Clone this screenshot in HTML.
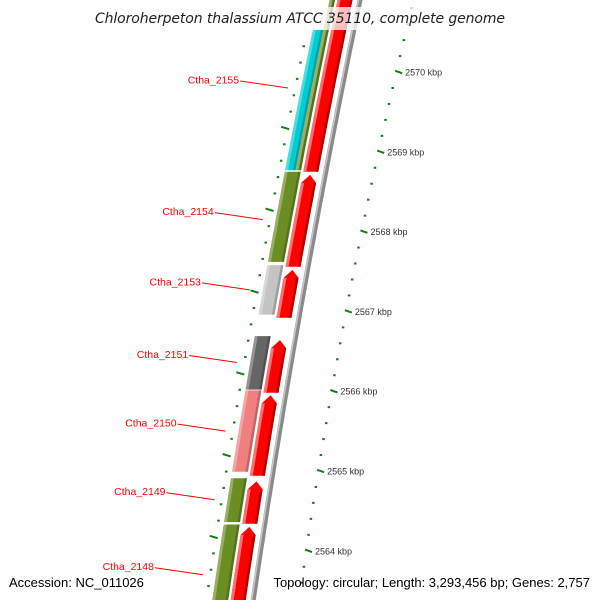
<!DOCTYPE html>
<html><head><meta charset="utf-8"><style>
html,body{margin:0;padding:0;background:#fff;width:600px;height:600px;overflow:hidden}
svg{display:block;font-family:"Liberation Sans","DejaVu Sans",sans-serif;overflow:hidden}
</style></head><body>
<svg id="map" width="600" height="600" viewBox="0 0 600 600" xmlns="http://www.w3.org/2000/svg">
<g id="backbone"></g>
<g id="ruler"></g>
<g id="genes"></g>
<g id="labels"></g>
<rect x="92" y="7" width="416" height="23" fill="#fff" opacity="0.75"/>
<text x="300" y="23" text-anchor="middle" font-size="14" font-style="italic" fill="#222" style="font-family:'DejaVu Sans',sans-serif" textLength="410">Chloroherpeton thalassium ATCC 35110, complete genome</text>
<text x="9" y="587" font-size="13" fill="#000">Accession: NC_011026</text>
<text x="590" y="587" font-size="13" text-anchor="end" fill="#000">Topology: circular; Length: 3,293,456 bp; Genes: 2,757</text>
</svg>
<script>
// data (kbp)
const forwardStarts = [2568.75, 2567.56, 2566.92, 2565.98, 2564.94, 2564.34, 2563.2];
const forwardEnds   = [2571.2, 2568.71, 2567.52, 2566.64, 2565.95, 2564.87, 2564.30];
const reverseStarts = [2567.62, 2566.96, 2566.02, 2564.99, 2564.36, 2563.2];
const reverseEnds   = [2568.75, 2567.58, 2566.69, 2566.01, 2564.91, 2564.33];
const reverseColors = ["#6b8e23", "#c4c4c4", "#666666", "#f08080", "#6b8e23", "#6b8e23"];
const overlapStarts = [2568.77, 2568.77];
const overlapEnds = [2570.53, 2571.2];
const overlapColors = ["#00cdd2", "#6b8e23"];
const outerTickLabels = [2564, 2565, 2566, 2567, 2568, 2569, 2570];
const innerTicks = [2564.0, 2565.0, 2566.0, 2567.0, 2568.0, 2569.0];
const geneNames = ["Ctha_2155", "Ctha_2154", "Ctha_2153", "Ctha_2151", "Ctha_2150", "Ctha_2149", "Ctha_2148"];
const geneLabelKbp = [2569.80, 2568.15, 2567.27, 2566.36, 2565.50, 2564.64, 2563.70];

const NS = "http://www.w3.org/2000/svg";
function Y(k){ return 72 + (2570 - k) * 79.8; }
function YI(k){ return 128 + (2569.3 - (k + 0.3)) * 81.8; }
function G(y){ return 360 - 0.208 * y + 5e-5 * y * y; }
function R(y){ return 412.3 - 0.245 * y + 9.1e-5 * y * y; }
function mk(tag, attrs, parent){
  const e = document.createElementNS(NS, tag);
  for (const k in attrs) e.setAttribute(k, attrs[k]);
  parent.appendChild(e); return e;
}
function clampY(y){ return Math.max(-10, Math.min(605, y)); }
function band(y1, y2, o1, o2){
  y1 = clampY(y1); y2 = clampY(y2);
  const pts = [];
  const n = 12;
  for (let i = 0; i <= n; i++){ const y = y1 + (y2 - y1) * i / n; pts.push([G(y) + o1, y]); }
  for (let i = n; i >= 0; i--){ const y = y1 + (y2 - y1) * i / n; pts.push([G(y) + o2, y]); }
  return pts.map(p => p[0].toFixed(1) + "," + p[1].toFixed(1)).join(" ");
}
function arrow(yTop, yBot, o1, o2){
  yBot = clampY(yBot);
  const n = 10, ah = 8, pts = [];
  const yb = yTop + ah;
  for (let i = 0; i <= n; i++){ const y = yBot + (yb - yBot) * i / n; pts.push([G(y) + o1, y]); }
  pts.push([G(yTop) + (o1 + o2) / 2, yTop]);
  for (let i = n; i >= 0; i--){ const y = yBot + (yb - yBot) * i / n; pts.push([G(y) + o2, y]); }
  return pts.map(p => p[0].toFixed(1) + "," + p[1].toFixed(1)).join(" ");
}
// backbone
const bb = document.getElementById("backbone");
let d1 = "", d2 = "";
for (let y = -10; y <= 600; y += 10){ d1 += (y === -10 ? "M" : "L") + G(y).toFixed(1) + " " + y; d2 += (y === -10 ? "M" : "L") + (G(y) - 1.5).toFixed(1) + " " + y; }
let p = mk("path", {d: d1, stroke: "#8a8a8a", "stroke-width": 5, fill: "none"}, bb);


p = mk("path", {d: d2, stroke: "#c8c8c8", "stroke-width": 1.5, fill: "none"}, bb);



// rulers
const rg = document.getElementById("ruler");
for (let k = 2563.0; k <= 2571.21; k += 0.2){
  const kk = Math.round(k * 10) / 10;
  const y = Y(kk), x = R(y);
  if (y > 598) continue;
  const major = Math.abs(kk - Math.round(kk)) < 0.01;
  if (major){
    const t = mk("line", {x1: x, y1: y - 1.2, x2: x + 7, y2: y + 1.2, stroke: "#128012", "stroke-width": 2}, rg);
    
    
  } else {
    const t = mk("rect", {x: x, y: y - 1, width: 2.5, height: 2, fill: "#128012"}, rg);
    
    
  }
}
outerTickLabels.forEach(k => {
  const y = Y(k);
  const t = mk("text", {x: R(y) + 10, y: y + 3.5, "font-size": 9, fill: "#333"}, rg);
  t.textContent = k + " kbp";
  
  
});
for (let k = 2562.6; k <= 2571.4; k += 0.2){
  const kk = Math.round(k * 10) / 10;
  const y = YI(kk), x = G(y) - 47;
  if (y < 35 || y > 598) continue;
  const major = innerTicks.some(v => Math.abs(v - kk) < 0.01);
  if (major){
    const t = mk("line", {x1: x - 6, y1: y - 1.2, x2: x + 2, y2: y + 1.2, stroke: "#128012", "stroke-width": 2}, rg);
    
    
  } else {
    const t = mk("rect", {x: x - 1, y: y - 1, width: 2.5, height: 2, fill: "#128012"}, rg);
    
    
  }
}

// genes
const gg = document.getElementById("genes");
forwardStarts.forEach((s, i) => {
  const yTop = Y(forwardEnds[i]), yBot = Y(s);
  let e = mk("polygon", {points: arrow(yTop, yBot, -22.5, -7.5), fill: "#ff0000"}, gg);
  
  
  e = mk("polygon", {points: band(yTop + 8, yBot, -22.5, -19.5), fill: "#ff7070"}, gg);
  
  
  e = mk("polygon", {points: band(yTop + 8, yBot, -10, -7.5), fill: "#b80000"}, gg);
  
  
});
function revGene(s, en, col, o1, o2){
  const yTop = Y(en), yBot = Y(s);
  let e = mk("polygon", {points: band(yTop, yBot, o1, o2), fill: col}, gg);
  
  
  e = mk("polygon", {points: band(yTop, yBot, o1, o1 + 3), fill: "#ffffff", opacity: 0.3}, gg);
  
  
  e = mk("polygon", {points: band(yTop, yBot, o2 - 2.5, o2), fill: "#000000", opacity: 0.2}, gg);
  
  
}
reverseStarts.forEach((s, i) => revGene(s, reverseEnds[i], reverseColors[i], -41, -25));
revGene(overlapStarts[0], overlapEnds[0], overlapColors[0], -41, -30.5);
revGene(overlapStarts[1], overlapEnds[1], overlapColors[1], -30.5, -25);

// labels
const lg = document.getElementById("labels");
geneNames.forEach((n, i) => {
  const y = Y(geneLabelKbp[i]);
  const xe = G(y) - 54;
  const xs = xe - 48;
  let l = mk("line", {x1: xs, y1: y - 7, x2: xe, y2: y, stroke: "#ff0000", "stroke-width": 1}, lg);
  
  
  const t = mk("text", {x: xs - 1, y: y - 4.5, "font-size": 10.5, fill: "#ff0000", "text-anchor": "end"}, lg);
  t.textContent = n;
  
  
});
</script>
</body></html>
